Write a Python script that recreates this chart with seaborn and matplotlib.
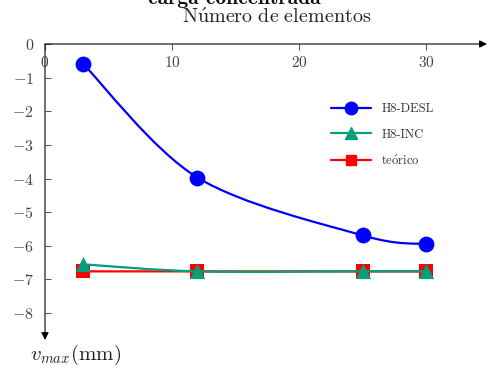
import numpy as np
import pandas as pd
import seaborn as sns
import matplotlib
matplotlib.use("Agg")
import matplotlib.pyplot as plt
from matplotlib.path import Path
from matplotlib.patches import PathPatch
from matplotlib.lines import Line2D

# ---- data ----
elements = [3, 12, 25, 30]
h8_desl = [-0.59, -3.97, -5.69, -5.95]
h8_inc = [-6.55, -6.76, -6.76, -6.76]
teorico = [-6.76, -6.76, -6.76, -6.76]
series_names = ["H8-DESL", "H8-INC", r"$\mathrm{te\acute{o}rico}$"]
x_ticks = [0, 10, 20, 30]
y_ticks = [0, -1, -2, -3, -4, -5, -6, -7, -8]

sns.set_style("ticks")
plt.rcParams["font.family"] = ["cmr10", "DejaVu Serif"]
plt.rcParams["mathtext.fontset"] = "cm"
plt.rcParams["axes.formatter.use_mathtext"] = True
plt.rcParams["axes.unicode_minus"] = True

W, H = 489, 369
fig = plt.figure(figsize=(W / 100, H / 100), dpi=100)
ax = fig.add_axes([45 / W, 1 - 340 / H, (487 - 45) / W, (340 - 44) / H])
ax.set_xlim(0, 34.8)
ax.set_ylim(-8.8, 0)
ax.patch.set_alpha(0)

colors = ["#0000ff", "#00a07a", "#ff0000"]
markers = ["o", "^", "s"]
msizes = [130, 120, 90]
data = [h8_desl, h8_inc, teorico]
zorders = [5, 4, 3]


def smooth_path(xs, ys, k=0.16):
    pts = np.column_stack([xs, ys]).astype(float)
    n = len(pts)
    verts = [pts[0]]
    codes = [Path.MOVETO]
    for i in range(n - 1):
        p0 = pts[i - 1] if i > 0 else pts[i]
        p1 = pts[i]
        p2 = pts[i + 1]
        p3 = pts[i + 2] if i + 2 < n else pts[i + 1]
        c1 = p1 + (p2 - p0) * k
        c2 = p2 - (p3 - p1) * k
        verts += [c1, c2, p2]
        codes += [Path.CURVE4] * 3
    return Path(verts, codes)


for vals, c, m, s, z in zip(data, colors, markers, msizes, zorders):
    df = pd.DataFrame({"x": elements, "y": vals})
    ax.add_patch(PathPatch(smooth_path(df["x"].values, df["y"].values),
                           facecolor="none", edgecolor=c, lw=1.6, zorder=z))
    sns.scatterplot(data=df, x="x", y="y", marker=m, s=s, color=c,
                    edgecolor=c, linewidth=0, ax=ax, zorder=z + 0.5, legend=False)

for sp in ["right", "bottom", "top", "left"]:
    ax.spines[sp].set_visible(False)

# axes arrows
ax.annotate("", xy=(1.0, 1.0), xytext=(0, 1.0), xycoords="axes fraction",
            arrowprops=dict(arrowstyle="-|>", color="black", lw=0.8,
                            mutation_scale=11, shrinkA=0, shrinkB=0), annotation_clip=False)
ax.annotate("", xy=(0, 0.0), xytext=(0, 1.0), xycoords="axes fraction",
            arrowprops=dict(arrowstyle="-|>", color="black", lw=0.8,
                            mutation_scale=11, shrinkA=0, shrinkB=0), annotation_clip=False)

ax.set_xticks(x_ticks)
ax.set_yticks(y_ticks)
ax.xaxis.set_ticks_position("top")
ax.tick_params(axis="x", direction="in", length=4, width=0.6, pad=-19,
               labelsize=11, colors="#333333", labelcolor="#444444")
ax.tick_params(axis="y", direction="in", length=4, width=0.6, pad=8,
               labelsize=11.5, colors="#333333", labelcolor="#444444")
ax.set_xlabel("")
ax.set_ylabel("")

fig.text(277 / W, 1 - 17 / H, r"$\mathrm{N\acute{u}mero\ de\ elementos}$",
         ha="center", va="center", fontsize=14.5, color="#222222")
fig.text(30 / W, 1 - 355 / H, r"$v_{max}\mathrm{(mm)}$", ha="left", va="center",
         fontsize=15, color="#222222")
fig.text(234 / W, 1 - 4 / H, "carga concentrada", ha="center", va="baseline",
         fontsize=15.5, fontfamily="cmb10", color="#111111")

handles = [Line2D([0], [0], color=c, lw=1.6, marker=m, markersize=ms)
           for c, m, ms in zip(colors, markers, [9, 8.5, 7.5])]
ax.legend(handles, series_names, loc="upper left",
          bbox_to_anchor=((320 - 45) / (487 - 45), 1 - (92 - 44) / (340 - 44)),
          frameon=False, fontsize=9, handlelength=3.2, labelspacing=1.05,
          handletextpad=0.8, labelcolor="#333333")

fig.savefig("out.png", dpi=100)
